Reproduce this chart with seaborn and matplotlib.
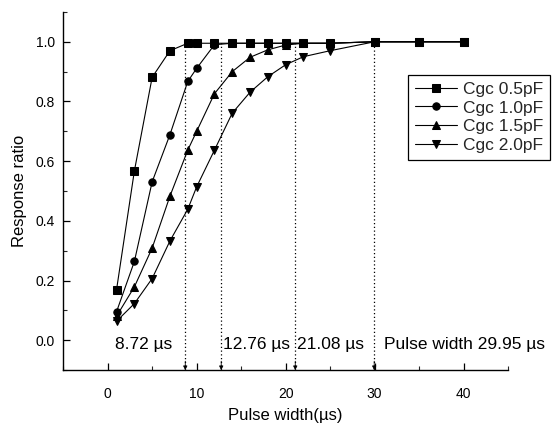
import numpy as np
import pandas as pd
import matplotlib
matplotlib.use("Agg")
import matplotlib.pyplot as plt
import seaborn as sns
from matplotlib.ticker import MultipleLocator

# ---- data ----
pulse_width = [1, 3, 5, 7, 9, 10, 12, 14, 16, 18, 20, 22, 25, 30, 35, 40]
cgc_05 = [0.17, 0.567, 0.881, 0.97, 0.995, 0.995, 0.995, 0.995, 0.995, 0.995, 0.995, 0.995, 0.995, 1.0, 1.0, 1.0]
cgc_10 = [0.096, 0.264, 0.531, 0.689, 0.867, 0.911, 0.99, 0.995, 0.995, 0.995, 0.995, 0.995, 0.995, 1.0, 1.0, 1.0]
cgc_15 = [0.081, 0.179, 0.309, 0.483, 0.637, 0.70, 0.826, 0.90, 0.948, 0.973, 0.989, 0.995, 0.995, 1.0, 1.0, 1.0]
cgc_20 = [0.064, 0.123, 0.207, 0.333, 0.439, 0.514, 0.637, 0.761, 0.831, 0.883, 0.923, 0.95, 0.97, 1.0, 1.0, 1.0]
series_names = ["Cgc 0.5pF", "Cgc 1.0pF", "Cgc 1.5pF", "Cgc 2.0pF"]
series_values = [cgc_05, cgc_10, cgc_15, cgc_20]
series_markers = ["s", "o", "^", "v"]

threshold_widths = [8.72, 12.76, 21.08, 29.95]
threshold_labels = ["8.72 \u00b5s", "12.76 \u00b5s", "21.08 \u00b5s", "Pulse width 29.95 \u00b5s"]
threshold_label_x = [0.8, 13.0, 21.3, 31.0]

# ---- style ----
sns.set_theme(style="ticks")
plt.rcParams["font.family"] = ["Liberation Sans", "DejaVu Sans"]

fig = plt.figure(figsize=(5.59, 4.25), dpi=100)
ax = fig.add_axes([0.113, 0.129, 0.796, 0.843])

for name, vals, m in zip(series_names, series_values, series_markers):
    ms = 6.3 if m in ("^", "v") else 5.3
    sns.lineplot(x=pulse_width, y=vals, ax=ax, color="black", marker=m,
                 markersize=ms, markeredgecolor="black", linewidth=0.8,
                 label=name, legend=False)

ymin, ymax = -0.1, 1.1
ax.set_xlim(-5, 45)
ax.set_ylim(ymin, ymax)

# threshold dotted lines with arrow heads
for xv in threshold_widths:
    ax.vlines(xv, ymin, 1.0, colors="black", linestyles=(0, (1, 2)), linewidth=0.9)
    ax.annotate("", xy=(xv, ymin), xytext=(xv, ymin + 0.03),
                arrowprops=dict(arrowstyle="-|>", color="black", lw=0.6,
                                mutation_scale=6, shrinkA=0, shrinkB=0))

for xt, lab in zip(threshold_label_x, threshold_labels):
    ax.text(xt, -0.015, lab, fontsize=12.5, ha="left", va="center",
            clip_on=False, color="black")

ax.xaxis.set_major_locator(MultipleLocator(10))
ax.xaxis.set_minor_locator(MultipleLocator(5))
ax.yaxis.set_minor_locator(MultipleLocator(0.1))
ax.set_yticks([0.0, 0.2, 0.4, 0.6, 0.8, 1.0])
ax.set_yticklabels(["0.0", "0.2", "0.4", "0.6", "0.8", "1.0"])
ax.tick_params(axis="both", which="major", direction="in", length=5, width=0.9,
               labelsize=10, colors="black")
ax.tick_params(axis="both", which="minor", direction="in", length=3, width=0.8)
ax.tick_params(axis="x", pad=12)
ax.tick_params(axis="y", pad=6)

for s in ["top", "right"]:
    ax.spines[s].set_visible(False)
for s in ["left", "bottom"]:
    ax.spines[s].set_color("black")
    ax.spines[s].set_linewidth(1.0)

ax.set_xlabel("Pulse width(\u00b5s)", fontsize=12, color="black", labelpad=5)
ax.set_ylabel("Response ratio", fontsize=12, color="black", labelpad=6)

handles, labels = ax.get_legend_handles_labels()
leg = ax.legend(handles, labels, loc="upper right",
                bbox_to_anchor=(0.984, 0.824), bbox_transform=fig.transFigure,
                borderaxespad=0, fontsize=12.5, handlelength=2.4,
                handletextpad=0.35, labelspacing=0.2, borderpad=0.4,
                fancybox=False, framealpha=1, edgecolor="black")
leg.get_frame().set_linewidth(0.9)

fig.savefig("out.png", dpi=100)
